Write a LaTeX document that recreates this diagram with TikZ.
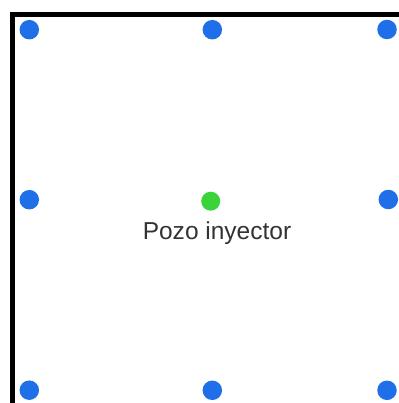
\documentclass[tikz,border=0pt]{standalone}
\usepackage{fontspec}
\setmainfont{Liberation Sans}
\definecolor{wellblue}{HTML}{1F6FE8}
\definecolor{wellgreen}{HTML}{3AD33A}
\definecolor{labelgray}{HTML}{333333}
\tikzset{
  prod/.style={circle, fill=wellblue, inner sep=0pt, minimum size=19.5pt},
  inj/.style={circle, fill=wellgreen, inner sep=0pt, minimum size=19pt},
  wall/.style={line width=4.6pt, line join=miter},
  lbl/.style={text=labelgray, font=\fontsize{24.5}{28}\selectfont, inner sep=0pt, anchor=base}
}
\begin{document}
\begin{tikzpicture}[x=1pt,y=-1pt]
\useasboundingbox (0,0) rectangle (398,403);
\coordinate (wb) at (12.5,404);
\coordinate (wc) at (12.5,14.3);
\coordinate (we) at (399,14.3);
\draw[wall] (wb) -- (wc) -- (we);
\node[prod] (p1) at (29.3,29.7) {};
\node[prod] (p2) at (212.3,29.7) {};
\node[prod] (p3) at (387,29.5) {};
\node[prod] (p4) at (29.3,199.7) {};
\node[prod] (p5) at (388.3,199.5) {};
\node[prod] (p6) at (29.3,390.2) {};
\node[prod] (p7) at (212.3,390.3) {};
\node[prod] (p8) at (387,390.3) {};
\node[inj] (i1) at (210.7,201.2) {};
\node[lbl] (t1) at (217,239.3) {Pozo inyector};
\end{tikzpicture}
\end{document}
